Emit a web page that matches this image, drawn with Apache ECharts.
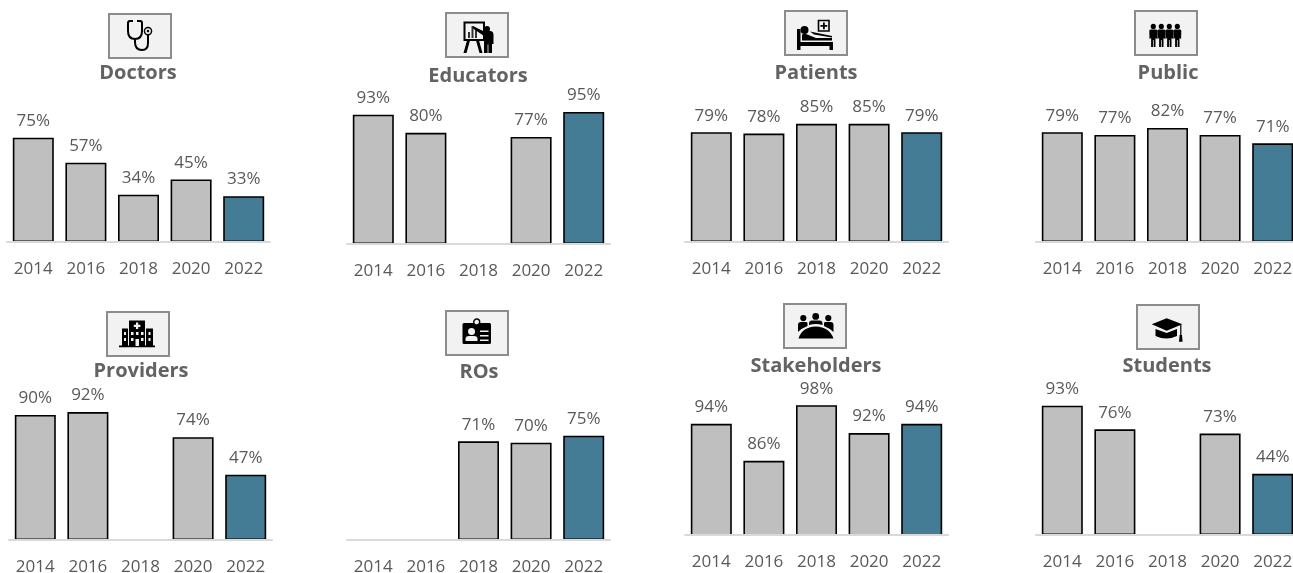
<!DOCTYPE html>
<html>
<head>
<meta charset="utf-8">
<script src="https://cdn.jsdelivr.net/npm/echarts@6/dist/echarts.min.js"></script>
<style>
  html, body { margin: 0; padding: 0; background: #fff; }
  #chart { width: 1293px; height: 573px; }
</style>
</head>
<body>
<div id="chart"></div>
<script>
const years = ["2014", "2016", "2018", "2020", "2022"];

// null = no survey that year
const doctors = [75, 57, 34, 45, 33];
const educators = [93, 80, null, 77, 95];
const patients = [79, 78, 85, 85, 79];
const publicGroup = [79, 77, 82, 77, 71];
const providers = [90, 92, null, 74, 47];
const ros = [null, null, 71, 70, 75];
const stakeholders = [94, 86, 98, 92, 94];
const students = [93, 76, null, 73, 44];

const GREY = "#BFBFBF";
const TEAL = "#437C94";
const TEXT = "#595959";
const TITLE = "#636363";
const FONT = "'Open Sans', sans-serif";
const BOX_BG = "#F2F2F2";

function personPath(x) {
  return (
    "M" + x + " 12.8a2.6 2.6 0 1 0 .01 0Z" +
    "M" + (x - 2.8) + " 18.4H" + (x + 2.8) + "Q" + (x + 4) + " 18.4 " + (x + 4) + " 20" +
    "L" + (x + 3.8) + " 28L" + (x + 2.2) + " 27V36H" + (x + 0.35) + "V29H" + (x - 0.35) + "V36H" + (x - 2.2) + "V27L" + (x - 3.8) + " 28" +
    "L" + (x - 4) + " 20Q" + (x - 4) + " 18.4 " + (x - 2.8) + " 18.4Z"
  );
}

// icons are drawn in a 62x44 box, top left is 0,0
const K = "#000";
const icons = {
  doctors: [
    { d: "M24 7H21Q19 7 19 9V17Q19 25 26 25Q33 25 33 17V9Q33 7 31 7H28", stroke: K, w: 2 },
    { d: "M26 25V28Q26 36 33 36Q39 36 39 29V21", stroke: K, w: 2 },
    { d: "M39 13.5a3.6 3.6 0 1 0 .01 0Z", stroke: K, w: 1.4 },
    { d: "M39 15.8a1.3 1.3 0 1 0 .01 0Z", fill: K },
  ],
  educators: [
    { d: "M18.5 9.5H38V27H18.5Z", stroke: K, w: 2 },
    { d: "M22 25V19H24V25ZM25.5 25V13H27.5V25ZM29 25V17H31V25Z", fill: "#333" },
    { d: "M21 27.5L17.5 40H20.5L24 27.5ZM33 27.5L36.5 40H33.5L30 27.5Z", fill: K },
    { d: "M41 13a3 3 0 1 0 .01 0Z", fill: K },
    { d: "M27 13L37 18H44Q47.5 18 47.5 22V31H46V40H42.4V31.5H41.6V40H38V23L27 15.5Z", fill: K },
  ],
  patients: [
    { d: "M33.5 9.5H44V20H33.5Z", stroke: K, w: 1.6 },
    { d: "M38 11.5H39.8V14H42.3V15.8H39.8V18.2H38V15.8H35.5V14H38Z", fill: K },
    { d: "M12 18H15.5V31H48V39H44.5V35H15.5V39H12Z", fill: K },
    { d: "M19.5 15a4 4 0 1 0 .01 0Z", fill: K },
    { d: "M17 24Q18 22 21 23L31 27L47 27V29.5H17Z", fill: K },
    { d: "M25 20.5L47 25V26.5L29 23.5Z", fill: K },
  ],
  publicGroup: [18.3, 26.3, 34.3, 42.3].map((x) => ({
    d: personPath(x),
    fill: K,
  })),
  providers: [
    { d: "M22 8.5H38V34H22Z", fill: K },
    { d: "M15 16.5H21V34H15ZM39 16.5H46V34H39Z", fill: K },
    { d: "M12 33.5H48V35.3H12Z", fill: K },
    { d: "M29 10.5H31.2V12.7H33.4V14.9H31.2V17.1H29V14.9H26.8V12.7H29Z", fill: BOX_BG },
    {
      d: "M24 20h2.5v3h-2.5zM29 20h2.5v3h-2.5zM34 20h2.5v3h-2.5zM24 26h2.5v3h-2.5zM34 26h2.5v3h-2.5zM28.5 27h3.5v7h-3.5zM17 20h2v3h-2zM17 26h2v3h-2zM41.5 20h2v3h-2zM41.5 26h2v3h-2z",
      fill: BOX_BG,
    },
  ],
  ros: [
    { d: "M18 12H43.5Q45 12 45 13.5V31.5Q45 33 43.5 33H18Q16.5 33 16.5 31.5V13.5Q16.5 12 18 12Z", fill: K },
    { d: "M30.7 8a3 3 0 1 0 .01 0Z", stroke: K, fill: BOX_BG, w: 1.4 },
    { d: "M25.5 17a3.5 3.5 0 1 0 .01 0Z", fill: BOX_BG },
    { d: "M19.5 30V28Q19.5 25 23 25H28Q31.5 25 31.5 28V30Z", fill: BOX_BG },
    { d: "M34 19.5H42.5V21H34ZM34 24H42.5V25.5H34ZM34 28.5H42.5V30H34Z", fill: BOX_BG },
  ],
  stakeholders: [
    { d: "M31.7 9a3.4 3.4 0 1 0 .01 0Z", fill: K },
    { d: "M19.3 11a3.1 3.1 0 1 0 .01 0Z", fill: K },
    { d: "M44.3 11a3.1 3.1 0 1 0 .01 0Z", fill: K },
    { d: "M25 21V19.5Q25 16.5 28 16.5H35.5Q38.5 16.5 38.5 19.5V21Q32 19 25 21Z", fill: K },
    { d: "M14 28V21Q14 18 17 18H22.5Q23.5 18 23.5 19.5V22Q18 24 14 28Z", fill: K },
    { d: "M49.5 28V21Q49.5 18 46.5 18H41Q40 18 40 19.5V22Q45 24 49.5 28Z", fill: K },
    { d: "M14.5 34.5Q18 23 31.7 22.5Q45.5 23 49.5 34.5Z", fill: K },
  ],
  students: [
    { d: "M14.7 19.3L29.7 13.3L45.3 19.3L29.7 25.7Z", fill: K },
    { d: "M18.5 24L29.7 28L40 24V31Q34 33.5 29.7 33.5Q24 33.5 18.5 31Z", fill: K },
    { d: "M43.2 20H44.4V30H43.2Z", fill: K },
    { d: "M42.6 30H45L45.6 36.8H42Z", fill: K },
  ],
};

const panels = [
  { name: "Doctors", data: doctors, left: 7, base: 242, title: [138, 73], box: [109, 14], icon: icons.doctors },
  { name: "Educators", data: educators, left: 347, base: 244, title: [478, 76], box: [446, 13], icon: icons.educators },
  { name: "Patients", data: patients, left: 685, base: 242, title: [816, 73], box: [785, 11], icon: icons.patients },
  { name: "Public", data: publicGroup, left: 1036, base: 242, title: [1168, 73], box: [1135, 11], icon: icons.publicGroup },
  { name: "Providers", data: providers, left: 9, base: 540, title: [141, 371], box: [107, 312], icon: icons.providers },
  { name: "ROs", data: ros, left: 347, base: 540, title: [479, 372], box: [446, 311], icon: icons.ros },
  { name: "Stakeholders", data: stakeholders, left: 685, base: 535, title: [816, 366], box: [784, 304], icon: icons.stakeholders, min: 70 },
  { name: "Students", data: students, left: 1036, base: 535, title: [1167, 366], box: [1137, 305], icon: icons.students },
];

const GRID_W = 263;
const GRID_H = 139;

const chart = echarts.init(document.getElementById("chart"), null, { renderer: "canvas" });

// graphic has no plain svg path type, so each icon part gets its own shape class
let shapeCount = 0;
function pathShape(d) {
  const shapeName = "iconPart" + shapeCount++;
  echarts.graphic.registerShape(shapeName, echarts.graphic.extendPath(d, {}));
  return shapeName;
}

const graphics = [];
panels.forEach((p) => {
  graphics.push({
    type: "rect",
    x: p.box[0],
    y: p.box[1],
    shape: { x: 0, y: 0, width: 62, height: 44 },
    style: { fill: BOX_BG, stroke: "#8C8C8C", lineWidth: 2 },
  });
  p.icon.forEach((part) => {
    graphics.push({
      type: pathShape(part.d),
      x: p.box[0],
      y: p.box[1],
      style: {
        fill: part.fill || "none",
        stroke: part.stroke || null,
        lineWidth: part.w || 0,
      },
    });
  });
});

const option = {
  animation: false,
  backgroundColor: "#fff",
  title: panels.map((p) => ({
    text: p.name,
    left: p.title[0],
    top: p.title[1],
    padding: 0,
    textAlign: "center",
    textVerticalAlign: "middle",
    textStyle: { color: TITLE, fontFamily: FONT, fontWeight: 700, fontSize: 20 },
  })),
  grid: panels.map((p) => ({
    left: p.left,
    top: p.base - GRID_H,
    width: GRID_W,
    height: GRID_H,
    // last column runs past the canvas edge, don't let v6 squeeze it back in
    outerBoundsMode: "none",
  })),
  xAxis: panels.map((p, i) => ({
    type: "category",
    gridIndex: i,
    data: years,
    z: 5,
    axisTick: { show: false },
    axisLine: { lineStyle: { color: "#D9D9D9", width: 2 } },
    axisLabel: {
      interval: 0,
      color: TEXT,
      fontFamily: FONT,
      fontSize: 17,
      margin: 19,
    },
  })),
  yAxis: panels.map((p, i) => ({
    type: "value",
    gridIndex: i,
    min: p.min || 0,
    max: 100,
    show: false,
  })),
  series: panels.map((p, i) => ({
    name: p.name,
    type: "bar",
    xAxisIndex: i,
    yAxisIndex: i,
    barWidth: 41,
    data: p.data.map((v, j) => ({
      value: v,
      itemStyle: {
        color: j === p.data.length - 1 ? TEAL : GREY,
        borderColor: "#000",
        borderWidth: 1.6,
      },
    })),
    label: {
      show: true,
      position: "top",
      distance: 8,
      color: TEXT,
      fontFamily: FONT,
      fontSize: 17,
      formatter: (d) => d.value + "%",
    },
  })),
  graphic: graphics,
};

chart.setOption(option);
</script>
</body>
</html>
